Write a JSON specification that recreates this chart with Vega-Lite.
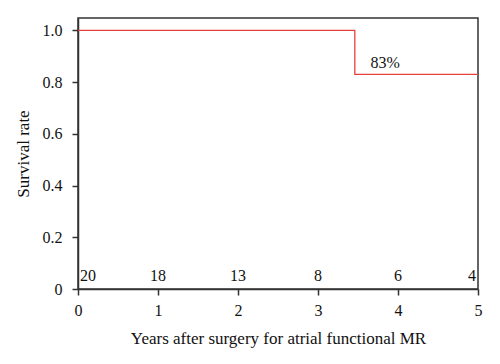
{
  "$schema": "https://vega.github.io/schema/vega-lite/v6.json",
  "width": 400,
  "height": 271,
  "autosize": {"type": "none"},
  "padding": {"left": 78, "top": 18, "right": 22, "bottom": 75},
  "background": "white",
  "config": {
    "font": "Liberation Serif",
    "view": {"stroke": "#333333", "strokeWidth": 1.5},
    "axis": {
      "domainColor": "#333333", "domainWidth": 1.5, "tickColor": "#333333", "tickWidth": 1.5,
      "tickSize": 6, "grid": false, "labelFont": "Liberation Serif", "labelFontSize": 16,
      "labelColor": "#111111", "titleFont": "Liberation Serif", "titleFontSize": 17,
      "titleFontWeight": "normal", "titleColor": "#111111"
    }
  },
  "datasets": {
    "curve": [
      {"year": 0, "survival": 1.0},
      {"year": 3.46, "survival": 0.83},
      {"year": 5, "survival": 0.83}
    ],
    "risk": [
      {"year": 0, "y": 0.03, "n": "20", "pos": "left"},
      {"year": 1, "y": 0.03, "n": "18", "pos": "center"},
      {"year": 2, "y": 0.03, "n": "13", "pos": "center"},
      {"year": 3, "y": 0.03, "n": "8", "pos": "center"},
      {"year": 4, "y": 0.03, "n": "6", "pos": "center"},
      {"year": 5, "y": 0.03, "n": "4", "pos": "right"},
      {"year": 3.63, "y": 0.855, "n": "83%", "pos": "left"}
    ]
  },
  "layer": [
    {
      "data": {"name": "curve"},
      "mark": {"type": "line", "interpolate": "step-after", "color": "#e8413b", "strokeWidth": 1.3, "clip": true},
      "encoding": {
        "x": {
          "field": "year", "type": "quantitative",
          "scale": {"domain": [0, 5], "nice": false, "zero": false},
          "axis": {"values": [0, 1, 2, 3, 4, 5], "format": "d", "title": "Years after surgery for atrial functional MR", "labelPadding": 7, "titlePadding": 12, "labelFlush": false}
        },
        "y": {
          "field": "survival", "type": "quantitative",
          "scale": {"domain": [0, 1.048], "nice": false},
          "axis": {"values": [0, 0.1, 0.2, 0.3, 0.4, 0.5, 0.6, 0.7, 0.8, 0.9, 1.0], "labelExpr": "datum.value == 0 ? '0' : (round(datum.value * 10) % 2 == 0 ? format(datum.value, '.1f') : '')", "title": "Survival rate", "labelPadding": 10, "titlePadding": 10, "labelFlush": false}
        }
      }
    },
    {
      "data": {"name": "risk"},
      "transform": [{"filter": "datum.pos == 'left'"}],
      "mark": {"type": "text", "align": "left", "baseline": "alphabetic", "fontSize": 16, "font": "Liberation Serif", "color": "#111111", "dx": 2},
      "encoding": {
        "x": {"field": "year", "type": "quantitative"},
        "y": {"field": "y", "type": "quantitative"},
        "text": {"field": "n"}
      }
    },
    {
      "data": {"name": "risk"},
      "transform": [{"filter": "datum.pos == 'center'"}],
      "mark": {"type": "text", "align": "center", "baseline": "alphabetic", "fontSize": 16, "font": "Liberation Serif", "color": "#111111"},
      "encoding": {
        "x": {"field": "year", "type": "quantitative"},
        "y": {"field": "y", "type": "quantitative"},
        "text": {"field": "n"}
      }
    },
    {
      "data": {"name": "risk"},
      "transform": [{"filter": "datum.pos == 'right'"}],
      "mark": {"type": "text", "align": "right", "baseline": "alphabetic", "fontSize": 16, "font": "Liberation Serif", "color": "#111111", "dx": -2},
      "encoding": {
        "x": {"field": "year", "type": "quantitative"},
        "y": {"field": "y", "type": "quantitative"},
        "text": {"field": "n"}
      }
    }
  ]
}
